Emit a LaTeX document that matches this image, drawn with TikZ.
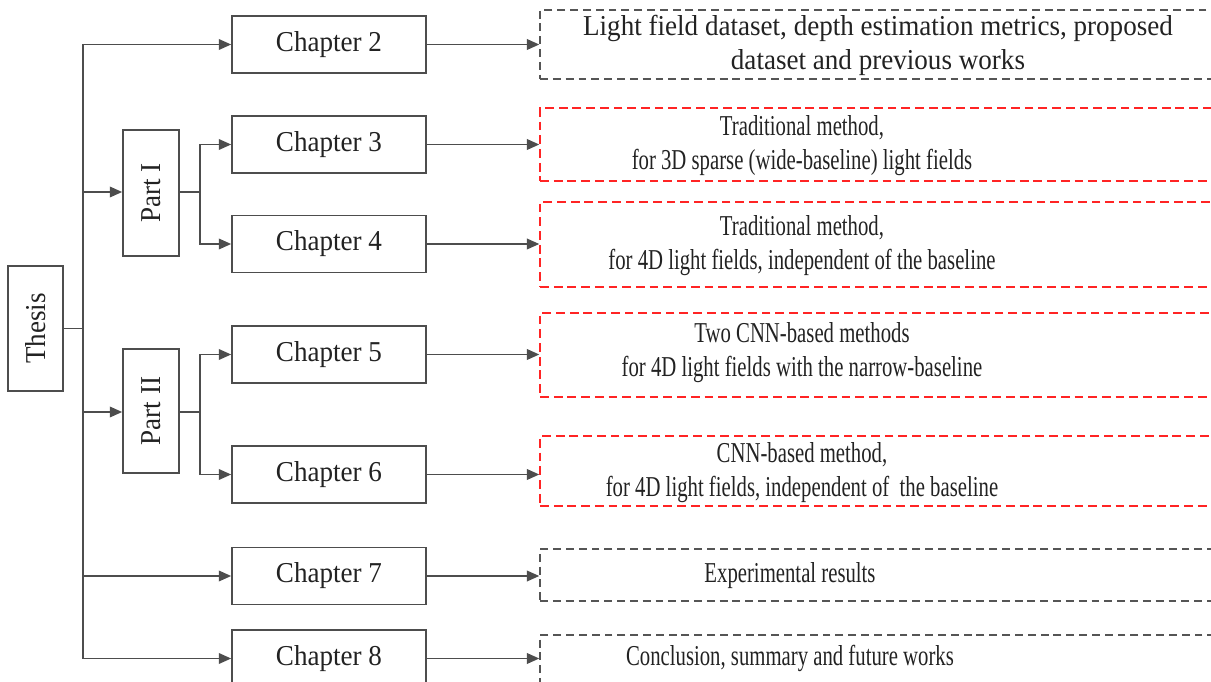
\documentclass[tikz,border=0pt]{standalone}
\usepackage{fontspec}
\setmainfont{Liberation Serif}
\newfontfamily\chfont[FakeStretch=0.94]{Liberation Serif}
\newfontfamily\descfont[FakeStretch=0.72]{Liberation Serif}
\usetikzlibrary{arrows.meta}
\definecolor{linegray}{HTML}{4D4D4D}
\definecolor{dashred}{HTML}{FF2424}
\definecolor{dashgray}{HTML}{555555}
\definecolor{inkgray}{HTML}{222222}
\begin{document}
\begin{tikzpicture}[x=0.02cm,y=-0.02cm,
  every node/.style={font=\fontsize{16.4}{19.3}\selectfont,text=inkgray},
  solidbox/.style={draw=linegray,line width=0.95pt,inner sep=0pt,font=\chfont\fontsize{16.4}{19.3}\selectfont},
  chapbox/.style={solidbox,minimum width=3.88cm,minimum height=1.14cm},
  graybox/.style={draw=dashgray,line width=0.9pt,dash pattern=on 4.5pt off 2.8pt,minimum width=13.8cm,inner sep=0pt},
  redbox/.style={draw=dashred,line width=0.9pt,dash pattern=on 5pt off 2.8pt,minimum width=13.8cm,inner sep=0pt},
  desc/.style={align=center,inner sep=0pt,font=\descfont\fontsize{16.4}{19.3}\selectfont},
  wide/.style={align=center,inner sep=0pt,font=\chfont\fontsize{16.4}{19.3}\selectfont},
  vlabel/.style={rotate=90,inner sep=0pt,font=\chfont\fontsize{16.4}{19.3}\selectfont},
  link/.style={draw=linegray,line width=0.95pt},
  arr/.style={link,-{Triangle[length=7pt,width=6pt]}}]
\useasboundingbox (0,0) rectangle (1211,682);

% root, parts and chapters
\node[solidbox,minimum width=1.1cm,minimum height=2.5cm] (thesis) at (35.5,328.5) {};
\node[vlabel] (thesislbl) at (thesis.center) {Thesis};
\node[solidbox,minimum width=1.12cm,minimum height=2.52cm] (p1) at (151,193) {};
\node[vlabel] (p1lbl) at (p1.center) {Part I};
\node[solidbox,minimum width=1.12cm,minimum height=2.48cm] (p2) at (151,411) {};
\node[vlabel] (p2lbl) at (p2.center) {Part II};

\node[chapbox] (ch2) at (329,44.5) {Chapter 2};
\node[chapbox] (ch3) at (329,144.5) {Chapter 3};
\node[chapbox] (ch4) at (329,244) {Chapter 4};
\node[chapbox] (ch5) at (329,354.5) {Chapter 5};
\node[chapbox] (ch6) at (329,474.5) {Chapter 6};
\node[chapbox] (ch7) at (329,576) {Chapter 7};
\node[chapbox] (ch8) at (329,658.5) {Chapter 8};

% content boxes on the right
\node[graybox,minimum height=1.38cm] (d2) at (885,44.5) {};
\node[redbox,minimum height=1.46cm] (d3) at (885,144.5) {};
\node[redbox,minimum height=1.7cm] (d4) at (885,244.5) {};
\node[redbox,minimum height=1.68cm] (d5) at (885,355) {};
\node[redbox,minimum height=1.4cm] (d6) at (885,471) {};
\node[graybox,minimum height=1.04cm] (d7) at (885,575) {};
\node[graybox,minimum height=1.3cm] (d8) at (885,667.5) {};

\node[wide] (t2) at (878,45.5) {Light field dataset, depth estimation metrics, proposed\\dataset and previous works};
\node[desc] (t3) at (802,146) {Traditional method,\\for 3D sparse (wide-baseline) light fields};
\node[desc] (t4) at (802,246) {Traditional method,\\for 4D light fields, independent of the baseline};
\node[desc] (t5) at (802,353) {Two CNN-based methods\\for 4D light fields with the narrow-baseline};
\node[desc] (t6) at (802,473) {CNN-based method,\\for 4D light fields, independent of\ \ the baseline};
\node[desc] (t7) at (790,576) {Experimental results};
\node[desc] (t8) at (790,658) {Conclusion, summary and future works};

% tree connectors
\coordinate (trunk) at (83,0);
\coordinate (fork) at (200,0);
\draw[link] (thesis.east) -- (trunk |- thesis.east);
\draw[link] (trunk |- ch2.west) -- (trunk |- ch8.west);
\draw[arr] (trunk |- ch2.west) -- (ch2.west);
\draw[arr] (trunk |- 0,192) -- (p1.west |- 0,192);
\draw[arr] (trunk |- 0,412) -- (p2.west |- 0,412);
\draw[arr] (trunk |- ch7.west) -- (ch7.west);
\draw[arr] (trunk |- ch8.west) -- (ch8.west);

\draw[link] (p1.east |- 0,192) -- (fork |- 0,192);
\draw[arr] (fork |- 0,192) |- (ch3.west);
\draw[arr] (fork |- 0,192) |- (ch4.west);
\draw[link] (p2.east |- 0,412) -- (fork |- 0,412);
\draw[arr] (fork |- 0,412) |- (ch5.west);
\draw[arr] (fork |- 0,412) |- (ch6.west);

% chapter to content
\foreach \c in {2,3,4,5,6,7,8}
  \draw[arr] (ch\c.east) -- (ch\c.east -| d\c.west);
\end{tikzpicture}
\end{document}
